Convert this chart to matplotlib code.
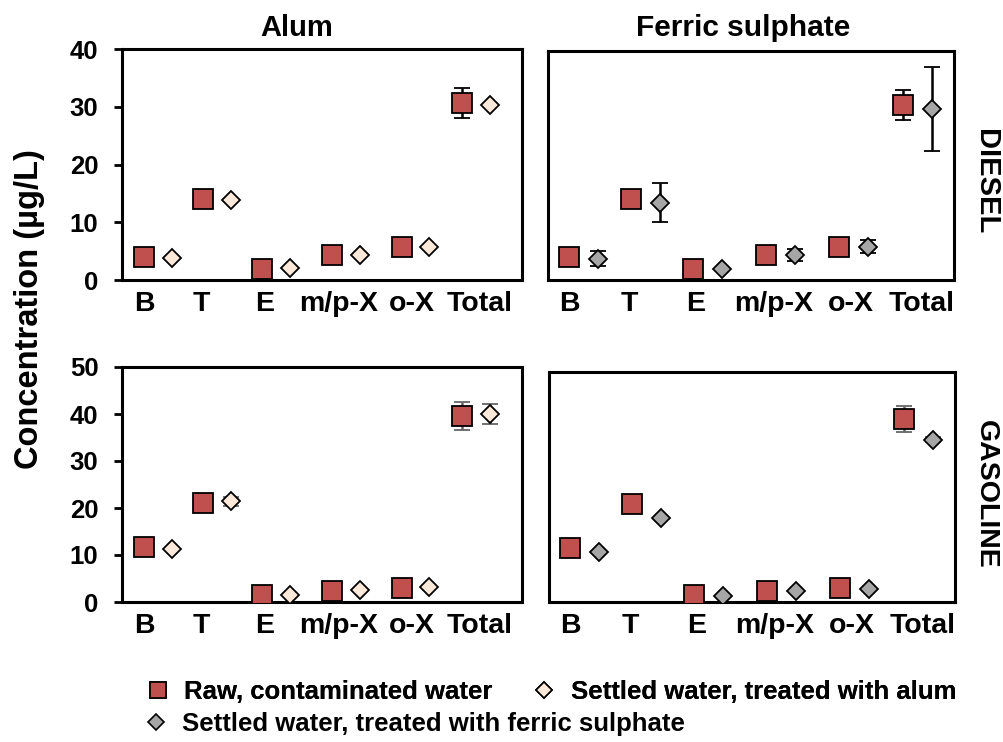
import matplotlib
matplotlib.use('Agg')
import matplotlib.pyplot as plt
from matplotlib.lines import Line2D

plt.rcParams['font.family'] = ['Liberation Sans', 'DejaVu Sans']
plt.rcParams['font.weight'] = 'bold'

# data
compounds = ['B', 'T', 'E', 'm/p-X', 'o-X', 'Total']

diesel_raw_alum = [4.0, 14.1, 1.9, 4.3, 5.8, 30.6]
diesel_raw_alum_err = [0, 0, 0, 0, 0, 2.6]
diesel_alum = [3.8, 13.9, 2.0, 4.3, 5.8, 30.3]
diesel_alum_err = [0, 0, 0, 0, 0, 0]

diesel_raw_ferric = [4.1, 14.1, 1.9, 4.3, 5.7, 30.6]
diesel_raw_ferric_err = [0, 0, 0, 0, 0, 2.6]
diesel_ferric = [3.7, 13.5, 1.9, 4.4, 5.8, 29.9]
diesel_ferric_err = [1.3, 3.4, 0, 1.1, 1.1, 7.3]

gasoline_raw_alum = [11.6, 21.0, 1.4, 2.4, 2.9, 39.6]
gasoline_raw_alum_err = [0, 0, 0, 0, 0, 2.9]
gasoline_alum = [11.2, 21.4, 1.5, 2.6, 3.1, 40.0]
gasoline_alum_err = [0, 1.0, 0, 0, 0, 2.1]

gasoline_raw_ferric = [11.8, 21.2, 1.5, 2.5, 3.0, 39.8]
gasoline_raw_ferric_err = [0, 0, 0, 0, 0, 2.8]
gasoline_ferric = [10.9, 18.2, 1.3, 2.4, 2.9, 35.3]
gasoline_ferric_err = [0, 0, 0, 0, 0, 0.6]

# layout
pos = [0, 1, 2, 3.18, 4.36, 5.38]
shift = 0.47
label_pos = [0, 0.97, 2.05, 3.3, 4.54, 5.68]

raw_c = '#C0504D'
alum_c = '#FDE9D9'
ferric_c = '#A6A6A6'

fig = plt.figure(figsize=(10.04, 7.42), dpi=100)
W, H = 1004, 742


def make_ax(x0, x1, y0, y1):
    return fig.add_axes([x0 / W, 1 - y1 / H, (x1 - x0) / W, (y1 - y0) / H])


ax_da = make_ax(122, 522, 49, 280)
ax_df = make_ax(548, 954, 51, 280)
ax_ga = make_ax(122, 522, 367, 602)
ax_gf = make_ax(549, 955, 372, 602)

panels = [
    (ax_da, diesel_raw_alum, diesel_raw_alum_err, diesel_alum, diesel_alum_err, alum_c, 'black', 40, (-0.373, 6.4)),
    (ax_df, diesel_raw_ferric, diesel_raw_ferric_err, diesel_ferric, diesel_ferric_err, ferric_c, 'black', 40, (-0.339, 6.21)),
    (ax_ga, gasoline_raw_alum, gasoline_raw_alum_err, gasoline_alum, gasoline_alum_err, alum_c, '#666666', 50, (-0.373, 6.4)),
    (ax_gf, gasoline_raw_ferric, gasoline_raw_ferric_err, gasoline_ferric, gasoline_ferric_err, ferric_c, '#666666', 50, (-0.339, 6.21)),
]

for ax, raw, raw_err, tr, tr_err, tr_c, ecol, ymax, xl in panels:
    ax.errorbar(pos, raw, yerr=raw_err, fmt='s', ms=14.5, mfc=raw_c, mec='black', mew=1.3,
                ecolor=ecol, elinewidth=1.8, capsize=6, capthick=1.8, zorder=3)
    ax.errorbar([p + shift for p in pos], tr, yerr=tr_err, fmt='D', ms=9.5, mfc=tr_c, mec='black', mew=1.3,
                ecolor=ecol, elinewidth=1.8, capsize=6, capthick=1.8, zorder=3)
    ax.set_xlim(*xl)
    ax.set_ylim(0, ymax)
    ax.set_xticks(label_pos, compounds)
    ax.tick_params(axis='x', length=0, pad=8, labelsize=20.5)
    for s in ax.spines.values():
        s.set_linewidth(2.2)
    for lab in ax.get_xticklabels():
        lab.set_fontweight('bold')

for ax, ymax in [(ax_da, 40), (ax_ga, 50)]:
    ax.set_yticks(range(0, ymax + 1, 10))
    ax.tick_params(axis='y', length=6, width=2, labelsize=18.5, pad=11)
    for lab in ax.get_yticklabels():
        lab.set_fontweight('bold')

for ax in (ax_df, ax_gf):
    ax.set_yticks([])

fig.text(297 / W, 1 - 28 / H, 'Alum', ha='center', va='center', fontsize=21, fontweight='bold')
fig.text(743 / W, 1 - 28 / H, 'Ferric sulphate', ha='center', va='center', fontsize=21.5, fontweight='bold')
fig.text(986 / W, 1 - 182 / H, 'DIESEL', ha='center', va='center', rotation=-90, fontsize=21, fontweight='bold')
fig.text(986 / W, 1 - 494 / H, 'GASOLINE', ha='center', va='center', rotation=-90, fontsize=20.5, fontweight='bold')
fig.text(30 / W, 1 - 309 / H, 'Concentration (µg/L)', ha='center', va='center', rotation=90, fontsize=23.5, fontweight='bold')

h_raw = Line2D([], [], ls='none', marker='s', ms=11, mfc=raw_c, mec='black', mew=1.2, label='Raw, contaminated water')
h_alum = Line2D([], [], ls='none', marker='D', ms=8.5, mfc=alum_c, mec='black', mew=1.2, label='Settled water, treated with alum')
h_fer = Line2D([], [], ls='none', marker='D', ms=8.5, mfc=ferric_c, mec='black', mew=1.2, label='Settled water, treated with ferric sulphate')

leg_kw = dict(frameon=False, borderpad=0, borderaxespad=0, handlelength=1, handletextpad=0.52,
              prop={'size': 18.5, 'weight': 'bold'})
leg1 = fig.legend(handles=[h_raw, h_alum], ncol=2, loc='center left', bbox_to_anchor=(145 / W, 1 - 692 / H),
                  columnspacing=1.52, **leg_kw)
fig.add_artist(leg1)
fig.legend(handles=[h_fer], loc='center left', bbox_to_anchor=(143 / W, 1 - 724 / H), **leg_kw)

fig.savefig('out.png', dpi=100)
